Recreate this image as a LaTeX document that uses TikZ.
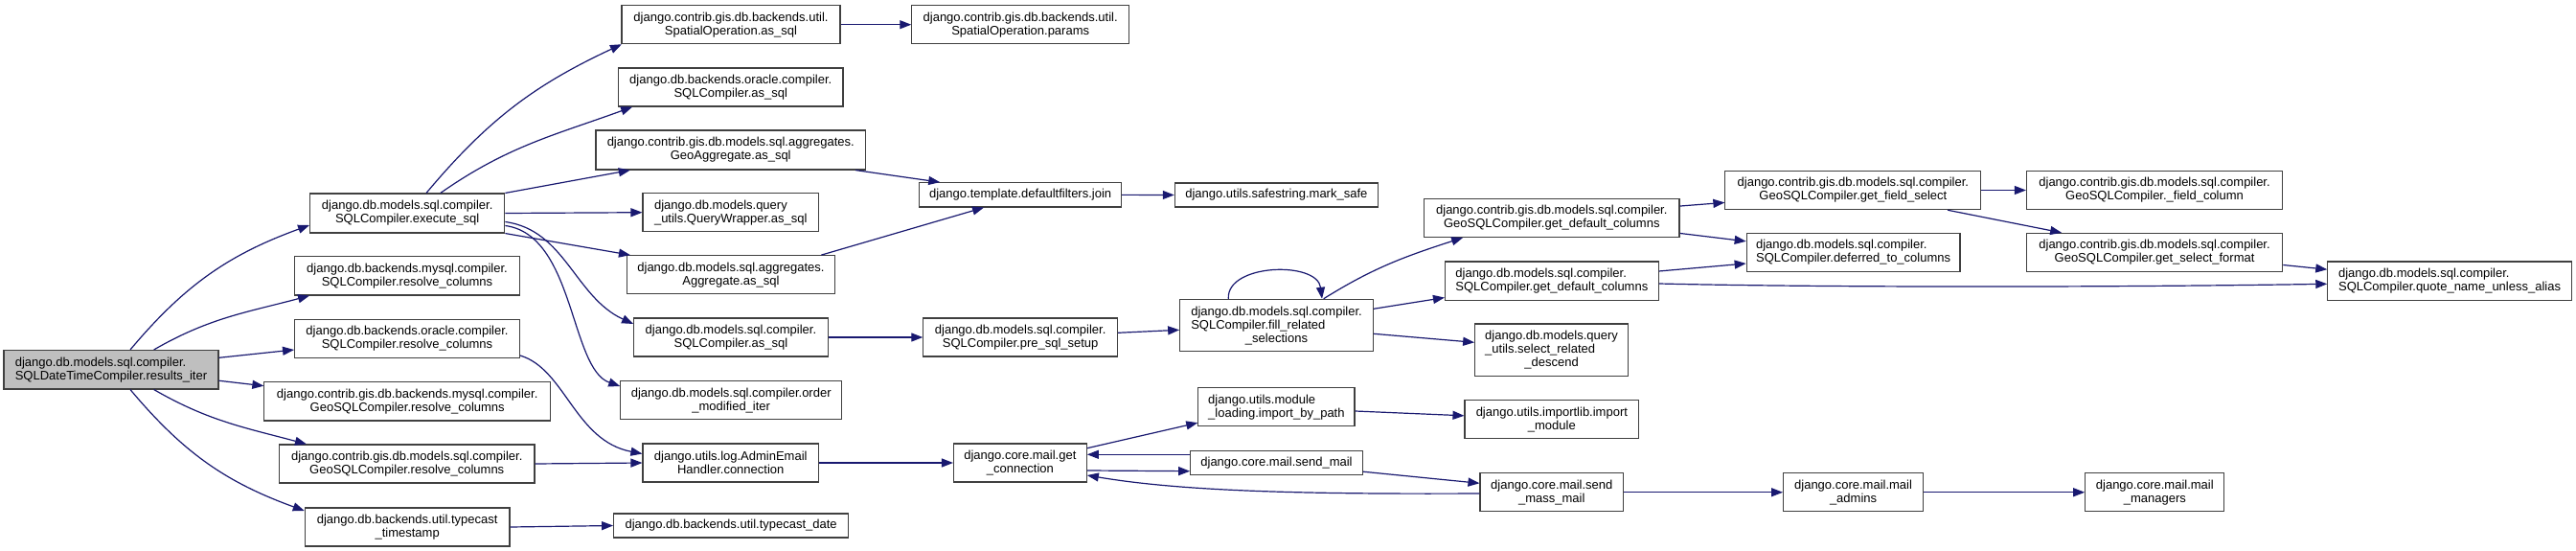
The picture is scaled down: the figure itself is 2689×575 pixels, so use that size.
\documentclass[tikz,border=0pt]{standalone}
\usepackage{fontspec}
\setmainfont{Liberation Sans}
\usetikzlibrary{arrows.meta}
\definecolor{edgec}{HTML}{191970}
\definecolor{rootfill}{HTML}{BFBFBF}
\definecolor{boxline}{HTML}{404040}
\tikzset{
  box/.style={draw=boxline, line width=1.1pt, rectangle, inner sep=1pt, align=center,
    font=\fontsize{13}{14}\selectfont, fill=white},
  lbox/.style={box, align=left},
  rootbox/.style={box, align=left, fill=rootfill},
  call/.style={draw=edgec, line width=1.2pt, -{Triangle[length=12pt,width=9pt]}},
}
\newcommand\bx[6][box]{\node[#1,minimum width={#4pt-#2pt},minimum height={#5pt-#3pt}] (#6) at ({(#2+#4)/2},{(#3+#5)/2})}
\begin{document}
\begin{tikzpicture}[x=1pt,y=-1pt]
\fill[white] (0,0) rectangle (2689,575);
\useasboundingbox (0,0) rectangle (2689,575);

% nodes
\bx[rootbox]{4}{365.5}{228}{406}{root}{django.db.models.sql.compiler.\\SQLDateTimeCompiler.results\_iter};
\bx{323.6}{202}{526.8}{243}{exec}{django.db.models.sql.compiler.\\SQLCompiler.execute\_sql};
\bx{307.6}{267.6}{542.4}{308}{mysqlrc}{django.db.backends.mysql.compiler.\\SQLCompiler.resolve\_columns};
\bx{307.6}{333.4}{542.4}{373.8}{oraclerc}{django.db.backends.oracle.compiler.\\SQLCompiler.resolve\_columns};
\bx{275.9}{398.8}{574.5}{439}{gismysqlrc}{django.contrib.gis.db.backends.mysql.compiler.\\GeoSQLCompiler.resolve\_columns};
\bx{291.5}{464}{558}{504}{gismodelsrc}{django.contrib.gis.db.models.sql.compiler.\\GeoSQLCompiler.resolve\_columns};
\bx{318.3}{530}{532}{570}{tts}{django.db.backends.util.typecast\\\_timestamp};
\bx{649}{5.7}{877}{45.7}{spatialsql}{django.contrib.gis.db.backends.util.\\SpatialOperation.as\_sql};
\bx{645.5}{71}{880}{111}{oraclesql}{django.db.backends.oracle.compiler.\\SQLCompiler.as\_sql};
\bx{622}{136}{903.5}{177}{geoagg}{django.contrib.gis.db.models.sql.aggregates.\\GeoAggregate.as\_sql};
\bx[lbox]{671}{201.7}{854.5}{241.7}{qwrap}{django.db.models.query\\\_utils.QueryWrapper.as\_sql};
\bx{654.5}{266.7}{871.4}{306.7}{agg}{django.db.models.sql.aggregates.\\Aggregate.as\_sql};
\bx{661.6}{332}{864.3}{372}{sqlassql}{django.db.models.sql.compiler.\\SQLCompiler.as\_sql};
\bx{647.8}{397.7}{878.6}{437.7}{ordermod}{django.db.models.sql.compiler.order\\\_modified\_iter};
\bx{671}{463}{854.5}{503}{adminemail}{django.utils.log.AdminEmail\\Handler.connection};
\bx{640.6}{536}{885.7}{561}{tdate}{django.db.backends.util.typecast\_date};
\bx{951.8}{5.7}{1178.6}{45.7}{params}{django.contrib.gis.db.backends.util.\\SpatialOperation.params};
\bx{959.8}{190.7}{1170.5}{216}{join}{django.template.defaultfilters.join};
\bx{963.8}{332}{1166.5}{372}{presql}{django.db.models.sql.compiler.\\SQLCompiler.pre\_sql\_setup};
\bx{995.5}{463}{1134.3}{503}{getconn}{django.core.mail.get\\\_connection};
\bx{1226.3}{191}{1438.4}{216}{marksafe}{django.utils.safestring.mark\_safe};
\bx{1231.7}{312.3}{1433.3}{366.7}{fillrel}{\begin{tabular}[b]{@{}l@{}}django.db.models.sql.compiler.\\SQLCompiler.fill\_related\end{tabular}\\\_selections};
\bx[lbox]{1250.8}{404.7}{1414}{444.7}{importbypath}{django.utils.module\\\_loading.import\_by\_path};
\bx{1242.7}{470.7}{1422.3}{495.7}{sendmail}{django.core.mail.send\_mail};
\bx{1486.6}{207.7}{1753}{247.4}{geodefcols}{django.contrib.gis.db.models.sql.compiler.\\GeoSQLCompiler.get\_default\_columns};
\bx[lbox]{1508.5}{273}{1731.2}{313.6}{sqldefcols}{django.db.models.sql.compiler.\\SQLCompiler.get\_default\_columns};
\bx{1539.7}{338}{1699.5}{392.6}{selrel}{\begin{tabular}[b]{@{}l@{}}django.db.models.query\\\_utils.select\_related\end{tabular}\\\_descend};
\bx{1529}{417.6}{1710.7}{457.7}{importmod}{django.utils.importlib.import\\\_module};
\bx{1545}{493.7}{1694.6}{533.8}{sendmass}{django.core.mail.send\\\_mass\_mail};
\bx{1800.9}{178.3}{2067.8}{218.7}{fieldsel}{django.contrib.gis.db.models.sql.compiler.\\GeoSQLCompiler.get\_field\_select};
\bx[lbox]{1823.2}{243.4}{2046}{283.8}{deferred}{django.db.models.sql.compiler.\\SQLCompiler.deferred\_to\_columns};
\bx{1861.6}{493.7}{2007.5}{533.8}{mailadmins}{django.core.mail.mail\\\_admins};
\bx{2115.4}{178.3}{2382.7}{218.7}{fieldcol}{django.contrib.gis.db.models.sql.compiler.\\GeoSQLCompiler.\_field\_column};
\bx{2115.4}{243.4}{2382.7}{283.8}{selfmt}{django.contrib.gis.db.models.sql.compiler.\\GeoSQLCompiler.get\_select\_format};
\bx{2176.7}{493.7}{2321.9}{533.8}{mailmgr}{django.core.mail.mail\\\_managers};
\bx[lbox]{2429.8}{273}{2684.3}{313.6}{quote}{django.db.models.sql.compiler.\\SQLCompiler.quote\_name\_unless\_alias};

% edges from root
\draw[call] ([xshift=20pt]root.north) to[out=50,in=200] ([yshift=-12.5pt]exec.west);
\draw[call] ([xshift=44.7pt]root.north) to[out=30,in=195] ([xshift=16pt]mysqlrc.south west);
\draw[call] ([yshift=12.45pt]root.east) -- ([yshift=-11.4pt]oraclerc.west);
\draw[call] ([yshift=-11.5pt]root.east) -- ([yshift=16.2pt]gismysqlrc.west);
\draw[call] ([xshift=44.7pt]root.south) to[out=-30,in=165] ([xshift=29pt]gismodelsrc.north west);
\draw[call] ([xshift=20pt]root.south) to[out=-50,in=160] ([yshift=17pt]tts.west);

% edges from execute_sql
\draw[call] ([xshift=19.8pt]exec.north) to[out=50,in=205] ([xshift=0.5pt]spatialsql.south west);
\draw[call] ([xshift=34.6pt]exec.north) to[out=35,in=200] ([xshift=15.2pt]oraclesql.south west);
\draw[call] (exec.north east) -- ([xshift=36.4pt]geoagg.south west);
\draw[call] (exec.east) -- (qwrap.west);
\draw[call] (exec.south east) -- ([xshift=4pt]agg.north west);
\draw[call] ([yshift=-9pt]exec.east) .. controls (590,240) and (600,310) .. ([yshift=14pt]sqlassql.west);
\draw[call] ([yshift=-13pt]exec.east) .. controls (600,245) and (595,385) .. ([yshift=14.7pt]ordermod.west);

% other column-1 edges
\draw[call] ([yshift=-17.4pt]oraclerc.east) .. controls (590,385) and (600,460) .. ([yshift=9.5pt]adminemail.west);
\draw[call] (gismodelsrc.east) -- (adminemail.west);
\draw[call] (tts.east) -- (tdate.west);

% column 2 -> 3
\draw[call] (spatialsql.east) -- (params.west);
\draw[call] ([xshift=-11pt]geoagg.south east) -- ([xshift=22pt]join.north west);
\draw[call] ([xshift=-14.7pt]agg.north east) -- ([xshift=67.8pt]join.south west);
\draw[call] (sqlassql.east) -- (presql.west);
\draw[call] (adminemail.east) -- (getconn.west);

% column 3 -> 4
\draw[call] (join.east) -- (marksafe.west);
\draw[call] ([yshift=4.7pt]presql.east) -- ([yshift=-4.8pt]fillrel.west);
\draw[call] ([yshift=15.3pt]getconn.east) -- ([yshift=-16.5pt]importbypath.west);
\draw[call] ([yshift=8.9pt]sendmail.west) -- ([yshift=8.7pt]getconn.east);
\draw[call] ([yshift=-8pt]getconn.east) -- ([yshift=-8.5pt]sendmail.west);
\draw[call] ([yshift=-1.25pt]sendmass.west) .. controls (1350,516) and (1230,512) .. ([yshift=-13pt]getconn.east);

% column 4 -> 5
\draw[call] ([yshift=-9pt]sendmail.east) -- ([yshift=9.45pt]sendmass.west);
\draw[call] ([yshift=-4.3pt]importbypath.east) -- ([yshift=3.85pt]importmod.west);
\draw[call] ([xshift=-50.2pt]fillrel.north) .. controls (1280,275) and (1375,272) .. ([xshift=47.5pt]fillrel.north);
\draw[call] ([xshift=49.2pt]fillrel.north) to[out=32,in=198] ([xshift=41.1pt]geodefcols.south west);
\draw[call] ([yshift=17.2pt]fillrel.east) -- ([yshift=3.6pt]sqldefcols.south west);
\draw[call] ([yshift=-8.8pt]fillrel.east) -- ([yshift=8pt]selrel.west);

% column 5 -> 6+
\draw[call] ([yshift=12.5pt]geodefcols.east) -- ([yshift=-12.9pt]fieldsel.west);
\draw[call] ([yshift=-15.9pt]geodefcols.east) -- ([yshift=11.8pt]deferred.west);
\draw[call] ([yshift=10.3pt]sqldefcols.east) -- ([yshift=-11.4pt]deferred.west);
\draw[call] ([yshift=-2.7pt]sqldefcols.east) .. controls (1900,300) and (2200,300) .. ([yshift=-3pt]quote.west);
\draw[call] (sendmass.east) -- (mailadmins.west);
\draw[call] (mailadmins.east) -- (mailmgr.west);

% column 6 -> 7 -> 8
\draw[call] (fieldsel.east) -- (fieldcol.west);
\draw[call] ([xshift=-35.3pt]fieldsel.south east) -- ([xshift=37.3pt]selfmt.north west);
\draw[call] ([yshift=-12.9pt]selfmt.east) -- ([yshift=12.1pt]quote.west);
\end{tikzpicture}
\end{document}
